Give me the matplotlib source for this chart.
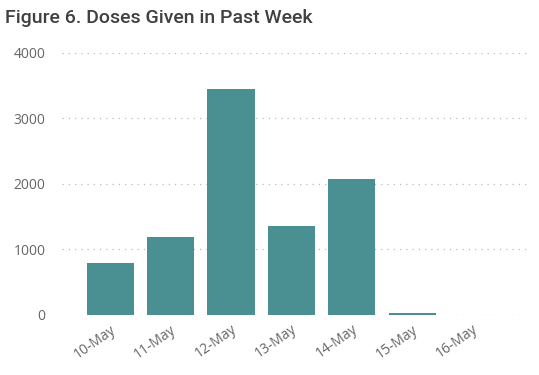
import matplotlib.pyplot as plt

days = ['10-May', '11-May', '12-May', '13-May', '14-May', '15-May', '16-May']
doses = [795, 1190, 3450, 1360, 2080, 30, 0]
yticks = [0, 1000, 2000, 3000, 4000]

plt.rcParams['font.family'] = ['Open Sans', 'DejaVu Sans']

fig = plt.figure(figsize=(5.39, 3.75), dpi=100)
ax = fig.add_axes([0.115, 0.16, 0.868, 0.699])

x = range(len(days))
ax.bar(x, doses, width=0.78, color='#4a8f91', zorder=2)

ax.set_xlim(-0.8, 6.95)
ax.set_ylim(0, 4000)
ax.set_yticks(yticks)
ax.set_yticklabels([str(t) for t in yticks], color='#666666', fontsize=10)
ax.set_xticks(list(x))
ax.set_xticklabels(days, rotation=35, ha='right', rotation_mode='anchor',
                   color='#666666', fontsize=10)
ax.tick_params(length=0)
ax.tick_params(axis='y', pad=12)
ax.tick_params(axis='x', pad=5)

ax.grid(axis='y', color='#bbbbbb', linestyle=(0, (1, 4)), linewidth=0.9, zorder=0)
for s in ax.spines.values():
    s.set_visible(False)

fig.text(0.01, 0.952, 'Figure 6. Doses Given in Past Week', fontsize=14,
         family=['Roboto', 'DejaVu Sans'], weight='medium',
         color='#404040', ha='left', va='center')

fig.savefig('out.png', dpi=100)
